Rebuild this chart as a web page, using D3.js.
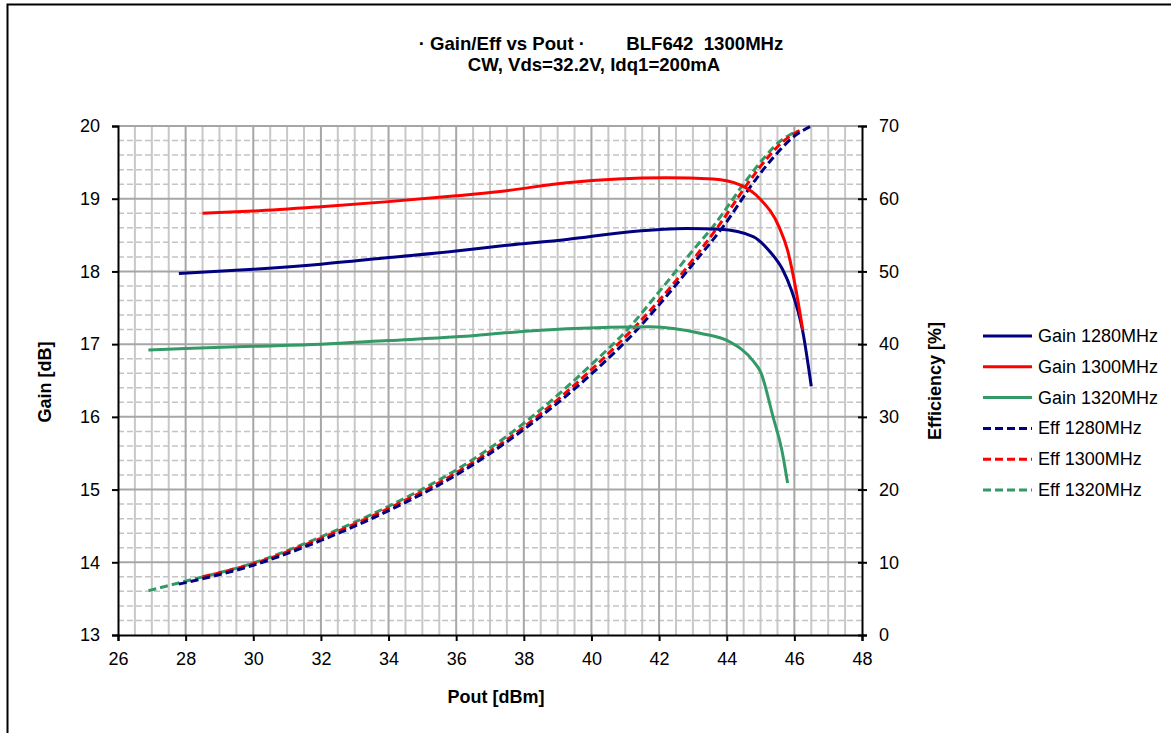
<!DOCTYPE html>
<html>
<head>
<meta charset="utf-8">
<script src="https://cdn.jsdelivr.net/npm/d3@7"></script>
<style>
  body { margin: 0; background: #fff; }
  svg { display: block; font-family: "Liberation Sans", Arial, sans-serif; }
</style>
</head>
<body>
<svg id="chart" width="1171" height="733"></svg>
<script>
const svg = d3.select("#chart");

// data
const xTicks = [26, 28, 30, 32, 34, 36, 38, 40, 42, 44, 46, 48];
const gainTicks = [13, 14, 15, 16, 17, 18, 19, 20];
const effTicks = [0, 10, 20, 30, 40, 50, 60, 70];

const pout1280 = [27.8, 30, 32, 34, 36, 37.3, 39.27, 41.23, 42.8, 43.8, 44.78, 45.28, 45.66, 45.9, 46.25, 46.5];
const gain1280 = [17.97, 18.03, 18.1, 18.19, 18.28, 18.35, 18.44, 18.55, 18.59, 18.58, 18.48, 18.27, 18.02, 17.76, 17.17, 16.42];
const pout1300 = [28.5, 30, 32, 34, 36, 37.3, 39.27, 42.22, 43.6, 44.39, 44.98, 45.55, 45.8, 46.05, 46.25];
const gain1300 = [18.8, 18.83, 18.89, 18.96, 19.04, 19.1, 19.22, 19.29, 19.27, 19.19, 19.0, 18.61, 18.29, 17.74, 17.19];
const pout1320 = [26.9, 28, 30, 32, 34, 36, 37.3, 39.27, 41.73, 43.21, 44.1, 44.78, 45.0, 45.37, 45.63, 45.8];
const gain1320 = [16.92, 16.94, 16.97, 17.0, 17.05, 17.1, 17.15, 17.21, 17.24, 17.15, 17.03, 16.77, 16.62, 16.0, 15.54, 15.09];

const effPout1280 = [27.8, 30, 32, 34, 36, 37.6, 38.43, 40, 41.43, 42, 43, 43.9, 44.85, 45.4, 46, 46.5];
const eff1280 = [7.0, 9.6, 13.0, 17.1, 22.0, 26.9, 29.8, 35.9, 42.4, 45.4, 51.0, 56.2, 62.6, 65.8, 68.6, 70.0];
const effPout1300 = [28.5, 30, 32, 34, 36, 37.6, 38.33, 40, 41.29, 42, 43, 43.75, 44.7, 45.2, 45.7, 46.25];
const eff1300 = [8.0, 9.8, 13.3, 17.4, 22.3, 27.2, 29.8, 36.5, 42.4, 46.0, 51.6, 56.2, 62.6, 65.6, 68.0, 69.6];
const effPout1320 = [26.9, 28, 30, 32, 34, 36, 37.6, 38.18, 40, 41.14, 42, 43, 43.6, 44.59, 45.1, 45.5, 45.87, 46.1];
const eff1320 = [6.1, 7.4, 9.9, 13.5, 17.7, 22.7, 27.7, 29.8, 37.2, 42.4, 47.2, 52.9, 56.2, 62.6, 65.6, 67.6, 68.8, 69.3];

const seriesNames = ["Gain 1280MHz", "Gain 1300MHz", "Gain 1320MHz", "Eff 1280MHz", "Eff 1300MHz", "Eff 1320MHz"];

const navy = "#000080";
const red = "#ff0000";
const green = "#339966";
const fontSize = 18;

const plotLeft = 118, plotRight = 862, plotTop = 126, plotBottom = 635;

const x = d3.scaleLinear().domain([26, 48]).range([plotLeft, plotRight]);
const yGain = d3.scaleLinear().domain([13, 20]).range([plotBottom, plotTop]);
const yEff = d3.scaleLinear().domain([0, 70]).range([plotBottom, plotTop]);

// outer frame (runs off the picture at right and bottom)
svg.append("rect")
  .attr("x", 7.5).attr("y", 4.5)
  .attr("width", 1200).attr("height", 800)
  .attr("fill", "none").attr("stroke", "#000").attr("stroke-width", 2);

// grid
const grid = svg.append("g");
for (let v = 26.5; v < 48; v += 0.5) {
  if (Math.abs(v / 2 - Math.round(v / 2)) < 1e-6) continue;
  grid.append("line")
    .attr("x1", x(v)).attr("x2", x(v)).attr("y1", plotTop).attr("y2", plotBottom)
    .attr("stroke", "#c8c8c8").attr("stroke-width", 2);
}
for (let i = 1; i < 35; i++) {
  if (i % 5 == 0) continue;
  const v = 13 + i * 0.2;
  grid.append("line")
    .attr("x1", plotLeft).attr("x2", plotRight).attr("y1", yGain(v)).attr("y2", yGain(v))
    .attr("stroke", "#c4c4c4").attr("stroke-width", 1.5)
    .attr("stroke-dasharray", "6,3");
}
xTicks.slice(1, -1).forEach(function (v) {
  grid.append("line")
    .attr("x1", x(v)).attr("x2", x(v)).attr("y1", plotTop).attr("y2", plotBottom)
    .attr("stroke", "#a6a6a6").attr("stroke-width", 2);
});
gainTicks.slice(1).forEach(function (v) {
  grid.append("line")
    .attr("x1", plotLeft).attr("x2", plotRight).attr("y1", yGain(v)).attr("y2", yGain(v))
    .attr("stroke", "#a6a6a6").attr("stroke-width", 2);
});

// axes
const xAxis = svg.append("g")
  .attr("transform", "translate(0," + plotBottom + ")")
  .call(d3.axisBottom(x).tickValues(xTicks).tickFormat(d3.format("d")).tickSize(6).tickPadding(11));
const gAxis = svg.append("g")
  .attr("transform", "translate(" + plotLeft + ",0)")
  .call(d3.axisLeft(yGain).tickValues(gainTicks).tickFormat(d3.format("d")).tickSize(6).tickPadding(12));
const eAxis = svg.append("g")
  .attr("transform", "translate(" + plotRight + ",0)")
  .call(d3.axisRight(yEff).tickValues(effTicks).tickFormat(d3.format("d")).tickSize(5).tickPadding(12));
eAxis.selectAll(".tick line").attr("x1", -4);

[xAxis, gAxis, eAxis].forEach(function (a) {
  a.select(".domain").attr("stroke", "#000").attr("stroke-width", 2);
  a.selectAll(".tick line").attr("stroke", "#000").attr("stroke-width", 2);
  a.selectAll("text").attr("font-size", fontSize).attr("fill", "#000")
    .attr("font-family", "Liberation Sans, Arial, sans-serif");
});

// curves
const curve = d3.line().curve(d3.curveMonotoneX);

function drawSeries(xs, ys, yScale, color, dashed) {
  const pts = xs.map(function (v, i) { return [x(v), yScale(ys[i])]; });
  svg.append("path")
    .attr("d", curve(pts))
    .attr("fill", "none")
    .attr("stroke", color)
    .attr("stroke-width", 3)
    .attr("stroke-dasharray", dashed ? "8,4" : null);
}

drawSeries(effPout1320, eff1320, yEff, green, true);
drawSeries(effPout1300, eff1300, yEff, red, true);
drawSeries(effPout1280, eff1280, yEff, navy, true);
drawSeries(pout1320, gain1320, yGain, green, false);
drawSeries(pout1280, gain1280, yGain, navy, false);
drawSeries(pout1300, gain1300, yGain, red, false);

// titles
svg.append("text")
  .attr("x", 601).attr("y", 50)
  .attr("text-anchor", "middle")
  .attr("font-size", 18.6).attr("font-weight", "bold")
  .style("white-space", "pre")
  .text("\u00b7 Gain/Eff vs Pout \u00b7        BLF642  1300MHz");
svg.append("text")
  .attr("x", 594).attr("y", 71)
  .attr("text-anchor", "middle")
  .attr("font-size", 18.6).attr("font-weight", "bold")
  .text("CW, Vds=32.2V, Idq1=200mA");

svg.append("text")
  .attr("x", 496).attr("y", 703)
  .attr("text-anchor", "middle")
  .attr("font-size", fontSize).attr("font-weight", "bold")
  .text("Pout [dBm]");
svg.append("text")
  .attr("transform", "translate(51,382) rotate(-90)")
  .attr("text-anchor", "middle")
  .attr("font-size", fontSize).attr("font-weight", "bold")
  .text("Gain [dB]");
svg.append("text")
  .attr("transform", "translate(941,381) rotate(-90)")
  .attr("text-anchor", "middle")
  .attr("font-size", fontSize).attr("font-weight", "bold")
  .text("Efficiency [%]");

// legend
const legendColors = [navy, red, green, navy, red, green];
const ly = d3.scalePoint().domain(seriesNames).range([336, 490]);
seriesNames.forEach(function (name, i) {
  const yy = ly(name);
  svg.append("line")
    .attr("x1", 983).attr("x2", 1032).attr("y1", yy).attr("y2", yy)
    .attr("stroke", legendColors[i]).attr("stroke-width", 3)
    .attr("stroke-dasharray", i > 2 ? "8,4" : null);
  svg.append("text")
    .attr("x", 1038).attr("y", yy + 6)
    .attr("font-size", fontSize)
    .text(name);
});
</script>
</body>
</html>
